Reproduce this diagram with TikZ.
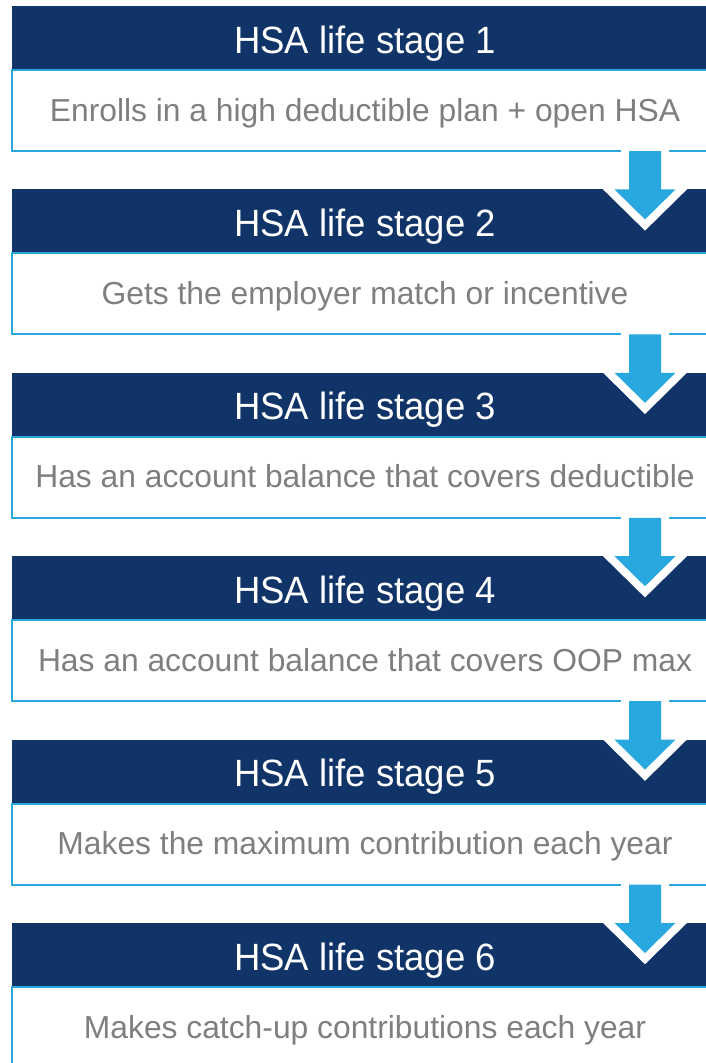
\documentclass[tikz,border=0pt]{standalone}
\usepackage{fontspec}
\setmainfont{Liberation Sans}
\newfontfamily\headfont[FakeStretch=0.96]{Liberation Sans}
\usetikzlibrary{positioning}
\usetikzlibrary{calc}
\definecolor{hsanavy}{RGB}{16,52,104}
\definecolor{hsablue}{RGB}{41,168,224}
\definecolor{hsagrey}{RGB}{127,127,127}

\begin{document}
\begin{tikzpicture}
[x=1pt,y=1pt,%
  stagehead/.style={shape=rectangle,inner sep=0pt,outer sep=0pt,minimum width=706pt,
    minimum height=64pt,text height=30pt,text depth=0pt,fill=hsanavy,text=white,
    font=\headfont\fontsize{38}{42}\selectfont},%
  stagebody/.style={shape=rectangle,inner sep=0pt,outer sep=0pt,minimum width=706pt,
    minimum height=81pt,text height=21pt,text depth=0pt,draw=hsablue,line width=2pt,
    fill=white,text=hsagrey,font=\fontsize{31.8}{36}\selectfont},%
  stagearrow/.style={fill=hsablue,preaction={draw=white,line width=16pt,line join=miter}}]
\clip (0,0) rectangle (706,-1063);
\coordinate (ax) at (645,0);
%%
\node[stagehead,anchor=north west] (head1) at (12,-6) {HSA life stage 1};
\node[stagebody,below=0pt of head1] (body1) {Enrolls in a high deductible plan + open HSA};
%%
\node[stagehead,below=38.4pt of body1] (head2) {HSA life stage 2};
\node[stagebody,below=0pt of head2] (body2) {Gets the employer match or incentive};
%%
\node[stagehead,below=38.4pt of body2] (head3) {HSA life stage 3};
\node[stagebody,below=0pt of head3] (body3) {Has an account balance that covers deductible};
%%
\node[stagehead,below=38.4pt of body3] (head4) {HSA life stage 4};
\node[stagebody,below=0pt of head4] (body4) {Has an account balance that covers OOP max};
%%
\node[stagehead,below=38.4pt of body4] (head5) {HSA life stage 5};
\node[stagebody,below=0pt of head5] (body5) {Makes the maximum contribution each year};
%%
\node[stagehead,below=38.4pt of body5] (head6) {HSA life stage 6};
\node[stagebody,below=0pt of head6] (body6) {Makes catch-up contributions each year};
%%
\foreach \fromNode/\toNode in {body1/head2, body2/head3, body3/head4, body4/head5, body5/head6}
{
  \path[stagearrow] let \p1=(\fromNode.south -| ax), \p2=(\toNode.north -| ax) in
    (\x1-16pt,\y1) -- (\x1-16pt,\y2) -- (\x1-30.5pt,\y2) -- (\x1,\y2-30pt)
    -- (\x1+30.5pt,\y2) -- (\x1+16pt,\y2) -- (\x1+16pt,\y1) -- cycle;
}
\end{tikzpicture}
\end{document}
